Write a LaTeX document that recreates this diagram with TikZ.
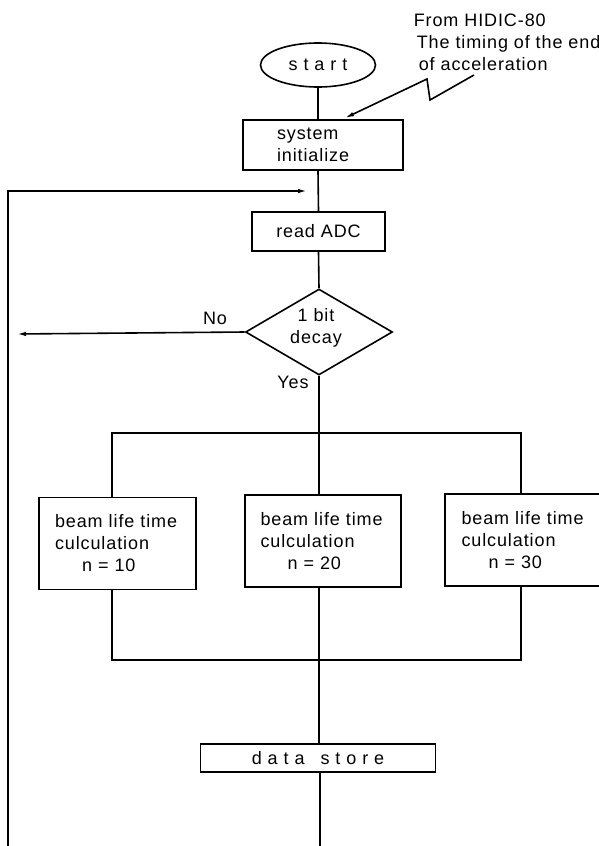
\documentclass[tikz,border=0pt]{standalone}
\usepackage{fontspec}
\setmainfont{Liberation Sans}[LetterSpace=5]
\usepackage{tikz}
\usetikzlibrary{shapes.geometric,arrows.meta}

\begin{document}
\begin{tikzpicture}[x=1pt,y=-1pt,>={Latex[length=9pt,width=4.5pt]},line width=1.6pt,
  every node/.style={font=\fontsize{18}{22}\selectfont,inner sep=0pt},
  terminal/.style={draw,ellipse,minimum width=115pt,minimum height=44pt},
  procbox/.style={draw,rectangle},
  calcbox/.style={procbox,align=left,text width=125pt,minimum width=157pt,minimum height=92pt},
  decision/.style={draw,diamond,aspect=1.71,minimum width=147pt,minimum height=86pt}]
  \useasboundingbox (0,0) rectangle (599,846);
  % ---- main column ----
  \node[terminal] (start) at (318,65) {s t a r t};
  \node[procbox,align=left,text width=92pt,minimum width=160pt,minimum height=50pt] (init) at (323,145) {system\\initialize};
  \node[procbox,minimum width=133pt,minimum height=39pt] (read) at (318.5,231.5) {read ADC};
  \node[decision] (test) at (319,332) {};
  \node[align=center] (testtext) at (316,328) {1 bit\\decay};
  \node (no) at (215,318) {No};
  \node (yes) at (293,382) {Yes};
  % ---- three calculations ----
  \node[calcbox] (calc10) at (117.5,543.5) {beam life time\\culculation\\\hspace*{27pt}n = 10};
  \node[calcbox,minimum width=156pt] (calc20) at (323,541) {beam life time\\culculation\\\hspace*{27pt}n = 20};
  \node[calcbox,minimum width=158pt] (calc30) at (524,540) {beam life time\\culculation\\\hspace*{27pt}n = 30};
  \node[procbox,minimum width=235pt,minimum height=28pt] (data) at (318,758) {d a t a\hspace{16pt}s t o r e};
  % ---- trigger from HIDIC ----
  \node[anchor=west,align=left] (note) at (413,42) {From HIDIC-80\\\hspace*{3pt}The timing of the end\\\hspace*{5pt}of acceleration};
  \coordinate (hidic) at (474,75);
  \coordinate (zig) at (430,100);
  \coordinate (zag) at (427,79);
  \coordinate (hit) at (345,118);
  \draw[->] (hidic) -- (zig) -- (zag) -- (hit);
  % ---- connectors ----
  \draw (start.south) -- (start.south |- init.north);
  \draw (start.south |- init.south) -- (read.north);
  \draw (read.south) -- (test.north);
  \draw (test.south) -- (test.south |- calc20.north);
  \coordinate (tl) at (112,433);
  \coordinate (tr) at (521,433);
  \coordinate (bl) at (112,660);
  \coordinate (br) at (521,660);
  \coordinate (bottom) at (320,850);
  \draw (calc10.north -| tl) -- (tl) -- (tr) -- (calc30.north -| tr);
  \draw (calc10.south -| bl) -- (bl) -- (br) -- (calc30.south -| br);
  \draw (test.south |- calc20.south) -- (test.south |- data.north);
  \draw (data.south -| bottom) -- (bottom);
  % ---- loop back and exit ----
  \coordinate (loopend) at (8,850);
  \coordinate (loopin) at (307,191);
  \coordinate (noend) at (17,334);
  \draw[->] (loopend) -- (loopend |- loopin) -- (loopin);
  \draw[->] (test.west) -- (noend);
\end{tikzpicture}
\end{document}
